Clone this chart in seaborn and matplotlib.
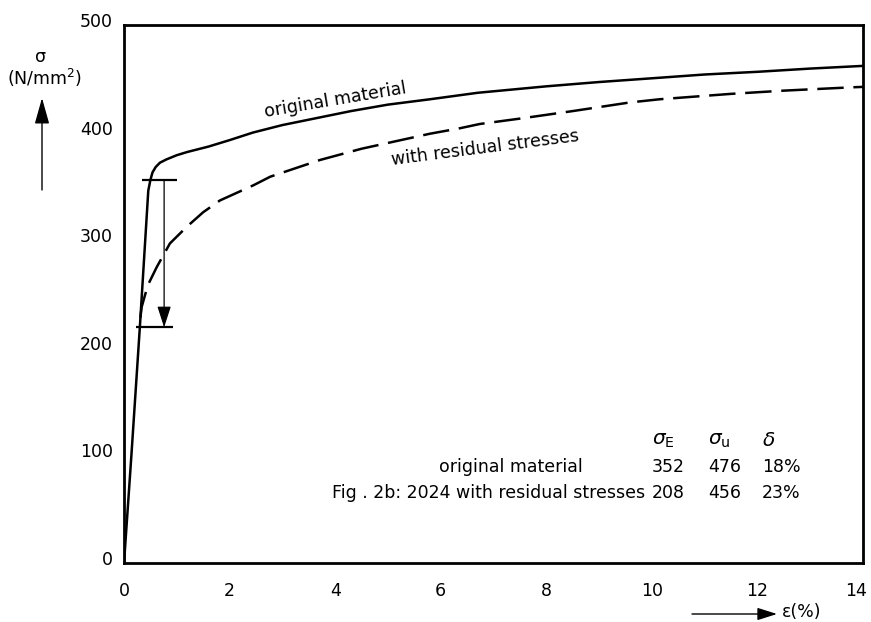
import numpy as np
import pandas as pd
import matplotlib
matplotlib.use("Agg")
import matplotlib.pyplot as plt
import matplotlib.transforms as mtransforms
import seaborn as sns

# ---- data ----
eps_orig = [0, 0.14, 0.30, 0.46, 0.50, 0.54, 0.60, 0.68, 0.80, 1.0, 1.2, 1.6, 2.0,
            2.44, 3.0, 3.7, 4.3, 5.0, 5.8, 6.7, 8.0, 9.0, 10.15, 11.0, 12.0, 13.0, 14.0]
sig_orig = [0, 100, 219, 346, 356, 363, 368, 372, 375, 379, 382, 387, 393,
            400, 407, 414, 420, 426, 431, 437, 443, 447, 451, 454, 456.5, 459.5, 462]

eps_res = [0.31, 0.335, 0.45, 0.62, 0.87, 1.19, 1.5, 1.82, 2.45, 2.77, 3.71, 4.5,
           5.8, 6.36, 6.74, 7.5, 8.5, 9.58, 10.15, 11.5, 12.5, 13.75, 14.0]
sig_res = [228, 238, 258, 275, 297, 312.5, 326, 337, 351, 359, 374.5, 385,
           399, 404, 408, 413, 420, 428, 431, 436, 439, 442, 442.5]

x_ticks = [0, 2, 4, 6, 8, 10, 12, 14]
y_ticks = [0, 100, 200, 300, 400, 500]

drop_eps = 0.76
drop_top = 356
drop_bottom = 219

table_rows = ["original material", "Fig . 2b: 2024 with residual stresses"]
table_header = [r"$\sigma_\mathrm{E}$", r"$\sigma_\mathrm{u}$", r"$\delta$"]
table_vals = [["352", "476", "18%"], ["208", "456", "23%"]]

# ---- figure ----
sns.set_theme(style="white")
plt.rcParams["font.family"] = ["DejaVu Sans"]
plt.rcParams["lines.scale_dashes"] = False
plt.rcParams["text.color"] = "black"
plt.rcParams["axes.labelcolor"] = "black"
plt.rcParams["xtick.color"] = "black"
plt.rcParams["ytick.color"] = "black"
FS = 12.5

fig = plt.figure(figsize=(8.71, 6.22), dpi=100)
ax = fig.add_axes([124 / 871, 59 / 622, (863 - 124) / 871, (563 - 25) / 622])

df_o = pd.DataFrame({"eps": eps_orig, "sig": sig_orig})
df_r = pd.DataFrame({"eps": eps_res, "sig": sig_res})
sns.lineplot(data=df_o, x="eps", y="sig", ax=ax, color="black", linewidth=1.8,
             sort=False, estimator=None)
sns.lineplot(data=df_r, x="eps", y="sig", ax=ax, color="black", linewidth=1.8,
             sort=False, estimator=None, linestyle=(0, (19, 7)))

ax.set_xlim(0, 14)
ax.set_ylim(0, 500)
ax.set_xticks(x_ticks)
ax.set_yticks(y_ticks)
ax.set_xticklabels([str(v) for v in x_ticks], fontsize=FS, color="black")
ax.set_yticklabels([str(v) for v in y_ticks], fontsize=FS, color="black")
ax.set_xlabel("")
ax.set_ylabel("")
ax.tick_params(axis="x", direction="in", length=8.5, width=1.4, pad=14, colors="black")
ax.tick_params(axis="y", direction="in", length=8, width=1.4, pad=8, colors="black")
ax.yaxis.get_major_ticks()[4].tick1line.set_markersize(12.5)
for sp in ax.spines.values():
    sp.set_visible(True)
    sp.set_linewidth(2.0)
    sp.set_color("black")

off = mtransforms.ScaledTranslation(0, 5 / 100, fig.dpi_scale_trans)
for lab in ax.get_yticklabels():
    lab.set_transform(lab.get_transform() + off)
last = ax.get_xticklabels()[-1]
last.set_transform(last.get_transform() +
                   mtransforms.ScaledTranslation(-7 / 100, 0, fig.dpi_scale_trans))

# drop arrow with bars
ax.hlines(drop_top, 0.34, 1.0, color="black", lw=1.6)
ax.hlines(drop_bottom, 0.22, 0.93, color="black", lw=1.6)
ax.annotate("", xy=(drop_eps, drop_bottom), xytext=(drop_eps, drop_top),
            arrowprops=dict(arrowstyle="-|>,head_length=1.3,head_width=0.42",
                            color="black", lw=0.9, shrinkA=0, shrinkB=0,
                            mutation_scale=10))

# curve labels
ax.text(4.0, 430, "original material", rotation=9.6, fontsize=FS,
        ha="center", va="center", rotation_mode="anchor")
ax.text(6.84, 385.5, "with residual stresses", rotation=7.3, fontsize=FS,
        ha="center", va="center", rotation_mode="anchor")

# table
col_x = [10.0, 11.06, 12.08]
row_y = [89, 65]
row_right = [8.69, 9.87]
for cx, h in zip(col_x, table_header):
    ax.text(cx, 114, h, fontsize=FS + 2, ha="left", va="center")
for ry, rr, name, vals in zip(row_y, row_right, table_rows, table_vals):
    ax.text(rr, ry, name, fontsize=FS, ha="right", va="center")
    for cx, v in zip(col_x, vals):
        ax.text(cx, ry, v, fontsize=FS, ha="left", va="center")

# axis labels with arrows (figure pixels)
fig.text(41 / 871, 1 - 57.5 / 622, "σ", fontsize=FS, ha="center", va="center")
fig.text(45 / 871, 1 - 78 / 622, r"(N/mm$^2$)", fontsize=FS, ha="center", va="center")
ax.annotate("", xy=(42, 622 - 98), xytext=(42, 622 - 190),
            xycoords="figure pixels", textcoords="figure pixels",
            arrowprops=dict(arrowstyle="-|>,head_length=1.6,head_width=0.45",
                            color="black", lw=1.0, shrinkA=0, shrinkB=0,
                            mutation_scale=10), annotation_clip=False)
ax.annotate("", xy=(777, 622 - 614), xytext=(692, 622 - 614),
            xycoords="figure pixels", textcoords="figure pixels",
            arrowprops=dict(arrowstyle="-|>,head_length=1.2,head_width=0.38",
                            color="black", lw=1.0, shrinkA=0, shrinkB=0,
                            mutation_scale=10), annotation_clip=False)
fig.text(782 / 871, 1 - 612 / 622, "ε(%)", fontsize=FS, ha="left", va="center")

fig.savefig("out.png", dpi=100)
